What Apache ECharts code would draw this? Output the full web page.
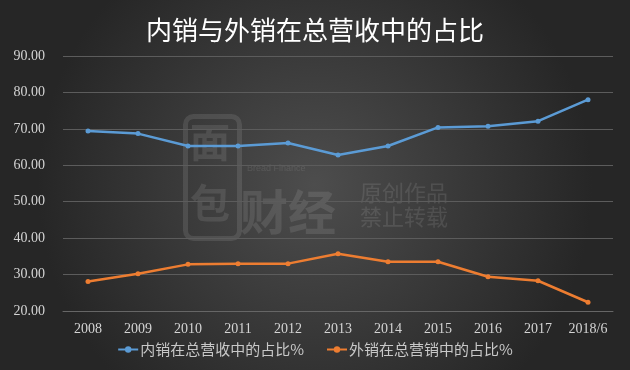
<!DOCTYPE html>
<html>
<head>
<meta charset="utf-8">
<script src="https://cdn.jsdelivr.net/npm/echarts@6/dist/echarts.min.js"></script>
<style>
  html, body { margin: 0; padding: 0; }
  #chart { width: 630px; height: 370px; }
</style>
</head>
<body>
<div id="chart"></div>
<script>
const categories = ["2008", "2009", "2010", "2011", "2012", "2013", "2014", "2015", "2016", "2017", "2018/6"];
const domesticShare = [69.4, 68.7, 65.3, 65.3, 66.1, 62.8, 65.3, 70.4, 70.7, 72.1, 78.0];
const exportShare = [28.1, 30.2, 32.8, 33.0, 33.0, 35.7, 33.5, 33.5, 29.4, 28.3, 22.4];
const seriesNames = ["内销在总营收中的占比%", "外销在总营销中的占比%"];

const chart = echarts.init(document.getElementById("chart"));

const serif = "'Liberation Serif', 'DejaVu Serif', serif";
const cjk = "'Noto Sans CJK SC', sans-serif";
const markColor = "rgba(255,255,255,0.1)";

const option = {
  backgroundColor: {
    type: "radial",
    x: 0.5, y: 0.5, r: 0.75,
    colorStops: [
      { offset: 0, color: "#4d4d4d" },
      { offset: 1, color: "#262626" },
    ],
  },
  title: {
    text: "内销与外销在总营收中的占比",
    left: "center",
    top: 12,
    textStyle: { color: "#ffffff", fontSize: 26, fontWeight: "normal", fontFamily: cjk },
  },
  // watermark
  graphic: [
    { type: "rect", left: 183, top: 114, shape: { width: 54, height: 122, r: 8 }, style: { fill: "none", stroke: markColor, lineWidth: 5 } },
    { type: "text", left: 190, top: 122, style: { text: "面", fill: markColor, fontSize: 40, fontFamily: cjk, fontWeight: "bold" } },
    { type: "text", left: 190, top: 183, style: { text: "包", fill: markColor, fontSize: 40, fontFamily: cjk, fontWeight: "bold" } },
    { type: "text", left: 240, top: 188, style: { text: "财经", fill: markColor, fontSize: 48, fontFamily: cjk, fontWeight: "bold" } },
    { type: "text", left: 247, top: 164, style: { text: "Bread Finance", fill: markColor, fontSize: 9, fontFamily: "'Liberation Sans', sans-serif" } },
    { type: "text", left: 360, top: 182, style: { text: "原创作品", fill: markColor, fontSize: 22, fontFamily: cjk } },
    { type: "text", left: 360, top: 206, style: { text: "禁止转载", fill: markColor, fontSize: 22, fontFamily: cjk } },
  ],
  legend: {
    data: seriesNames,
    bottom: 8,
    left: "center",
    itemWidth: 20,
    itemHeight: 8,
    itemGap: 22,
    textStyle: { color: "#c8c8c8", fontSize: 15, fontFamily: cjk, padding: [0, 0, 0, -3] },
  },
  grid: { left: 63, right: 17, top: 56, bottom: 59 },
  xAxis: {
    type: "category",
    data: categories,
    boundaryGap: true,
    axisLine: { lineStyle: { color: "#666666" } },
    axisTick: { show: false },
    axisLabel: { color: "#d4d4d4", fontSize: 14, fontFamily: serif, margin: 11, interval: 0 },
  },
  yAxis: {
    type: "value",
    min: 20,
    max: 90,
    interval: 10,
    axisLine: { show: false },
    axisTick: { show: false },
    splitLine: { lineStyle: { color: "#5c5c5c", width: 1 } },
    axisLabel: {
      color: "#d4d4d4",
      fontSize: 14,
      fontFamily: serif,
      margin: 18,
      formatter: (v) => v.toFixed(2),
    },
  },
  series: [
    {
      name: seriesNames[0],
      type: "line",
      data: domesticShare,
      symbol: "circle",
      symbolSize: 5,
      lineStyle: { color: "#5b9bd5", width: 2.5 },
      itemStyle: { color: "#5b9bd5" },
    },
    {
      name: seriesNames[1],
      type: "line",
      data: exportShare,
      symbol: "circle",
      symbolSize: 5,
      lineStyle: { color: "#ed7d31", width: 2.5 },
      itemStyle: { color: "#ed7d31" },
    },
  ],
};

chart.setOption(option);
</script>
</body>
</html>
